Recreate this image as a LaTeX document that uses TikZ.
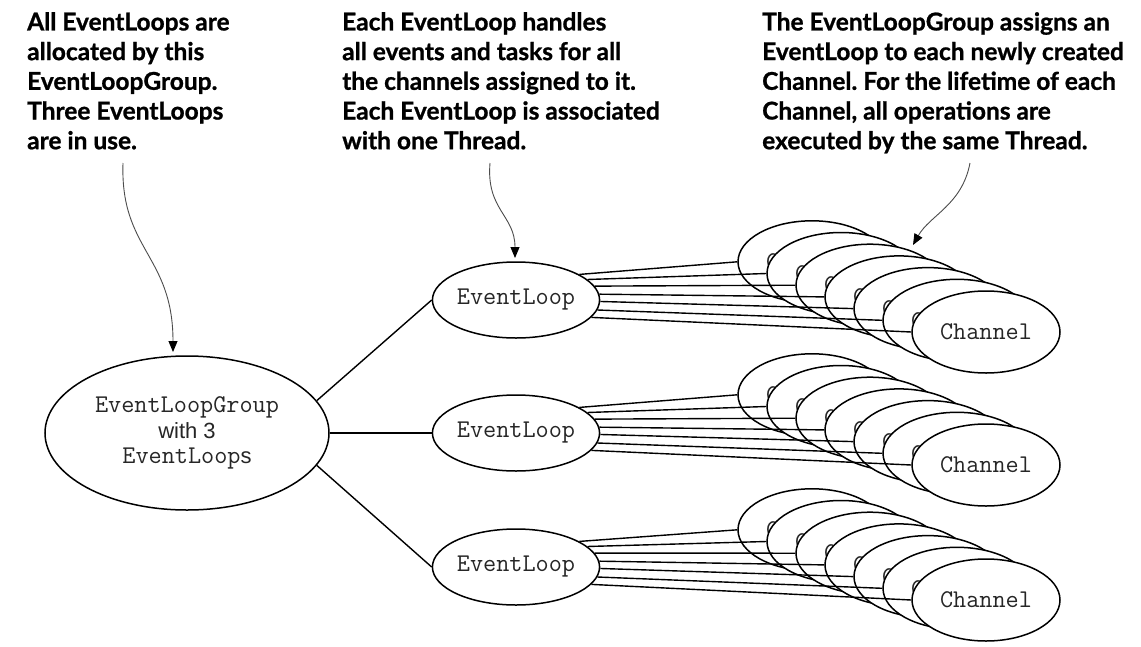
\documentclass[tikz,border=0pt]{standalone}
\usepackage{fontspec}
\setmainfont{Liberation Sans}
\newfontfamily\arialf{Liberation Sans}
\newcommand\monof{\ttfamily\fontsize{25.5}{25.5}\selectfont}
\newcommand\plainf{\arialf\fontsize{22}{25.5}\selectfont}
\newfontfamily\notef[BoldFeatures={FakeBold=0.9}]{Lato}
\usetikzlibrary{shapes.geometric,arrows.meta}
\begin{document}
\frenchspacing
\begin{tikzpicture}[x=1pt,y=-1pt,
  ell/.style={ellipse, draw, line width=1.5pt, fill=white, inner sep=0pt},
  chan/.style={ell, minimum width=148pt, minimum height=82pt, font=\monof, text=black!85},
  loopnode/.style={ell, minimum width=142pt, minimum height=76pt, font=\monof, text=black!85},
  groupnode/.style={ell, minimum width=284pt, minimum height=154pt, align=center, font=\plainf, text=black!85},
  note/.style={anchor=north west, inner sep=0pt, align=left, font=\notef\bfseries\fontsize{24.5}{29.7}\selectfont},
  link/.style={line width=1.4pt},
  callout/.style={line width=0.9pt, draw=black!70, -{Triangle[length=11pt,width=9pt,color=black]}}]
\useasboundingbox[fill=white] (0,0) rectangle (1141,646);

% notes
\node[note] (n1) at (27,12) {All EventLoops are\\allocated by this\\EventLoopGroup.\\Three EventLoops\\are in use.};
\node[note] (n2) at (342,12) {Each EventLoop handles\\all events and tasks for all\\the channels assigned to it.\\Each EventLoop is associated\\with one Thread.};
\node[note] (n3) at (762,12) {The EventLoopGroup assigns an\\EventLoop to each newly created\\Channel. For the lifetime of each\\Channel, all operations are\\executed by the same Thread.};

% group and loops
\node[groupnode] (elg) at (187,433) {{\monof EventLoopGroup}\\{\plainf with 3}\\{\monof EventLoop}{\plainf s}};
\node[loopnode] (el1) at (516,300) {EventLoop};
\node[loopnode] (el2) at (516,433) {EventLoop};
\node[loopnode] (el3) at (516,567) {EventLoop};

\draw[link] (elg.14) -- (el1.west);
\draw[link] (elg.east) -- (el2.west);
\draw[link] (elg.-14) -- (el3.west);

% channels
\foreach \g/\y in {1/332, 2/465, 3/600} {
  \foreach \i in {0,...,6} {
    \node[chan] (ch\g-\i) at ({986-29*(6-\i)}, {\y-11.7*(6-\i)}) {Channel};
  }
  \foreach \i/\a in {0/22, 1/16, 2/10, 3/4, 4/-1, 5/-7, 6/-13} {
    \draw[link] (el\g.\a) -- (ch\g-\i.west);
  }
}

% callouts
\coordinate (a1s) at (123,163);
\coordinate (a1e) at (173,352);
\coordinate (a2s) at (490,163);
\coordinate (a2e) at (515,258);
\coordinate (a3s) at (970,163);
\coordinate (a3e) at (913,245);
\draw[callout] (a1s) .. controls (120,250) and (173,255) .. (a1e);
\draw[callout] (a2s) .. controls (486,210) and (515,215) .. (a2e);
\draw[callout] (a3s) .. controls (962,205) and (930,215) .. (a3e);
\end{tikzpicture}
\end{document}
